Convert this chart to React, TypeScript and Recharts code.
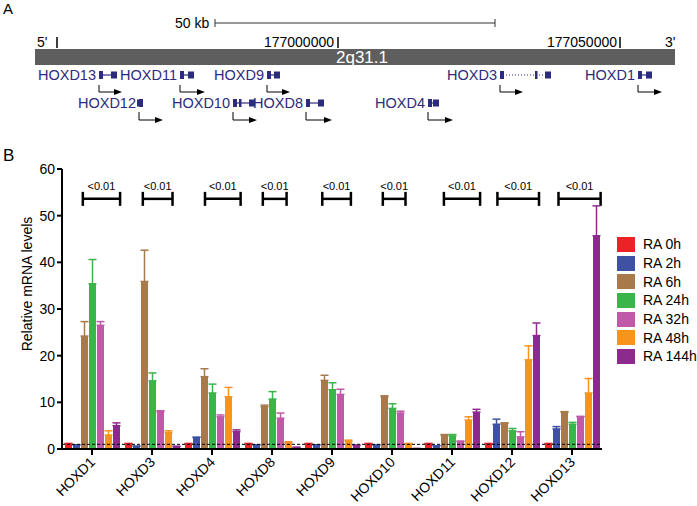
import React from "react";
import { Bar, BarChart, ErrorBar, Legend, ReferenceLine, XAxis, YAxis } from "recharts";

const categories = ["HOXD1", "HOXD3", "HOXD4", "HOXD8", "HOXD9", "HOXD10", "HOXD11", "HOXD12", "HOXD13"];

const ra0 = [1.0, 1.0, 1.0, 1.0, 1.0, 1.0, 1.0, 1.0, 1.0];
const ra0Err = [0.2, 0.2, 0.2, 0.2, 0.2, 0.2, 0.2, 0.2, 0.2];
const ra2 = [0.9, 0.6, 2.5, 0.9, 0.9, 0.85, 0.7, 5.3, 4.3];
const ra2Err = [0, 0, 0, 0, 0, 0, 0, 1.1, 0.5];
const ra6 = [24.2, 35.9, 15.5, 9.1, 14.7, 11.2, 3.0, 5.5, 7.9];
const ra6Err = [3.1, 6.7, 1.7, 0.3, 1.1, 0.2, 0.1, 0.1, 0.1];
const ra24 = [35.4, 14.6, 12.0, 10.7, 12.7, 8.7, 2.8, 3.9, 5.3];
const ra24Err = [5.2, 1.7, 1.9, 1.6, 1.5, 1.0, 0.3, 0.5, 0.4];
const ra32 = [26.5, 8.0, 6.9, 6.6, 11.7, 7.7, 1.6, 2.6, 6.9];
const ra32Err = [0.8, 0.2, 0.4, 1.1, 1.1, 0.4, 0.1, 1.1, 0.1];
const ra48 = [3.0, 3.5, 11.2, 1.35, 1.7, 1.1, 6.2, 19.1, 12.0];
const ra48Err = [0.9, 0.4, 2.0, 0.2, 0.2, 0.1, 0.7, 3.0, 3.1];
const ra144 = [5.0, 0.5, 3.7, 0.3, 0.75, 0.1, 7.9, 24.3, 45.7];
const ra144Err = [0.6, 0.1, 0.4, 0.1, 0.1, 0, 0.6, 2.7, 6.4];

const seriesNames = ["RA 0h", "RA 2h", "RA 6h", "RA 24h", "RA 32h", "RA 48h", "RA 144h"];
const seriesValues = [ra0, ra2, ra6, ra24, ra32, ra48, ra144];
const seriesErrors = [ra0Err, ra2Err, ra6Err, ra24Err, ra32Err, ra48Err, ra144Err];
const colors = ["#ec2227", "#3e51a3", "#a87a4b", "#3bb44a", "#c05aa8", "#f7941e", "#8c2a8e"];

// significance brackets: start/end as a fraction of each category band
const bracketStart = [0.33, 0.33, 0.37, 0.33, 0.32, 0.33, 0.35, 0.23, 0.25];
const bracketEnd = [1.02, 0.88, 1.03, 0.77, 0.85, 0.75, 1.02, 1.0, 1.03];
const bracketLevel = 53.6;
const bracketLabel = "<0.01";
const yTicks = [0, 10, 20, 30, 40, 50, 60];

const chartData = categories.map((name, i) => {
  const row: Record<string, any> = { name, bracket: bracketLevel, bStart: bracketStart[i], bEnd: bracketEnd[i] };
  seriesValues.forEach((vals, s) => {
    row[`v${s}`] = vals[i];
    row[`e${s}`] = [0, seriesErrors[s][i]];
  });
  return row;
});

const font = "'Liberation Sans', Arial, Helvetica, sans-serif";
const navy = "#2c2b7c";

type Gene = { name: string; row: number; x0: number; x1: number; arrowEnd: number };
const genes: Gene[] = [
  { name: "HOXD13", row: 0, x0: 99, x1: 117, arrowEnd: 122 },
  { name: "HOXD11", row: 0, x0: 180, x1: 194, arrowEnd: 205 },
  { name: "HOXD9", row: 0, x0: 267, x1: 280, arrowEnd: 290 },
  { name: "HOXD3", row: 0, x0: 500, x1: 551, arrowEnd: 523 },
  { name: "HOXD1", row: 0, x0: 638, x1: 652, arrowEnd: 662 },
  { name: "HOXD12", row: 1, x0: 139, x1: 143, arrowEnd: 163 },
  { name: "HOXD10", row: 1, x0: 233, x1: 255, arrowEnd: 257 },
  { name: "HOXD8", row: 1, x0: 306, x1: 324, arrowEnd: 332 },
  { name: "HOXD4", row: 1, x0: 428, x1: 439, arrowEnd: 453 },
];

function GeneMap() {
  const rowY = [75, 103];
  const arrowTop = [85, 112];
  const arrowY = [92, 120];
  return (
    <svg width={697} height={150} style={{ position: "absolute", left: 0, top: 0, fontFamily: font }}>
      <text x={3} y={14} fontSize={15}>A</text>
      <text x={175} y={28} fontSize={14}>50 kb</text>
      <line x1={215} y1={23} x2={495} y2={23} stroke="#333" strokeWidth={1} />
      <line x1={215} y1={19} x2={215} y2={27} stroke="#333" strokeWidth={1} />
      <line x1={495} y1={19} x2={495} y2={27} stroke="#333" strokeWidth={1} />
      <text x={37} y={47} fontSize={14}>5'</text>
      <line x1={57} y1={37} x2={57} y2={48} stroke="#000" strokeWidth={1.5} />
      <text x={334} y={47} fontSize={14} textAnchor="end">177000000</text>
      <line x1={338} y1={37} x2={338} y2={48} stroke="#000" strokeWidth={1.5} />
      <text x={617} y={47} fontSize={14} textAnchor="end">177050000</text>
      <line x1={620} y1={37} x2={620} y2={48} stroke="#000" strokeWidth={1.5} />
      <text x={665} y={47} fontSize={14}>3'</text>
      <rect x={35} y={49} width={640} height={16} fill="#5e5e5e" />
      <text x={336} y={63} fontSize={17} fill="#fff">2q31.1</text>
      {genes.map((g) => {
        const y = rowY[g.row];
        return (
          <g key={g.name}>
            <text x={g.x0 - 3} y={y + 5} fontSize={14.5} fill={navy} textAnchor="end">{g.name}</text>
            <line x1={g.x0} y1={y} x2={g.x1} y2={y} stroke={navy} strokeWidth={1.2} strokeDasharray={g.name === "HOXD3" ? "1 2" : undefined} />
            <rect x={g.x0} y={y - 4} width={4} height={8} fill={navy} />
            <rect x={g.x1 - 6} y={y - 3.5} width={6} height={7} fill={navy} />
            {g.x1 - g.x0 > 20 && <rect x={g.x1 - 16} y={y - 4} width={2.5} height={8} fill={navy} />}
            <polyline
              points={`${g.x0},${arrowTop[g.row]} ${g.x0},${arrowY[g.row]} ${g.arrowEnd - 6},${arrowY[g.row]}`}
              fill="none"
              stroke="#000"
              strokeWidth={1}
            />
            <polygon
              points={`${g.arrowEnd},${arrowY[g.row]} ${g.arrowEnd - 8},${arrowY[g.row] - 3} ${g.arrowEnd - 8},${arrowY[g.row] + 3}`}
              fill="#000"
            />
          </g>
        );
      })}
    </svg>
  );
}

const XTick = ({ x, y, payload }: any) => (
  <text
    x={x + 4}
    y={y + 6}
    textAnchor="end"
    fontSize={14}
    fill="#000"
    fontFamily={font}
    transform={`rotate(-45 ${x + 4} ${y + 6})`}
  >
    {payload.value}
  </text>
);

// bar spans the whole category band; draw the bracket instead of a rectangle
const BracketShape = (props: any) => {
  const { x, y, width, height, payload } = props;
  const pxPerUnit = height / payload.bracket;
  const x1 = x + payload.bStart * width;
  const x2 = x + payload.bEnd * width;
  const half = 1.5 * pxPerUnit;
  return (
    <g>
      <line x1={x1} y1={y} x2={x2} y2={y} stroke="#000" strokeWidth={2.5} />
      <line x1={x1} y1={y - half} x2={x1} y2={y + half} stroke="#000" strokeWidth={2.5} />
      <line x1={x2} y1={y - half} x2={x2} y2={y + half} stroke="#000" strokeWidth={2.5} />
      <text x={(x1 + x2) / 2} y={y - 9} textAnchor="middle" fontSize={11} fontFamily={font} fill="#000">
        {bracketLabel}
      </text>
    </g>
  );
};

const LegendContent = () => (
  <div style={{ fontFamily: font, fontSize: 14, color: "#000" }}>
    {seriesNames.map((n, i) => (
      <div key={n} style={{ display: "flex", alignItems: "center", height: 18.7 }}>
        <span style={{ display: "inline-block", width: 18, height: 15, background: colors[i], marginRight: 8 }} />
        <span>{n}</span>
      </div>
    ))}
  </div>
);

const YLabel = ({ viewBox }: any) => {
  const cx = viewBox.x + 32;
  const cy = viewBox.y + viewBox.height / 2 - 25;
  return (
    <text x={cx} y={cy} textAnchor="middle" fontSize={14} fontFamily={font} fill="#000" transform={`rotate(-90 ${cx} ${cy})`}>
      Relative mRNA levels
    </text>
  );
};

export default function App() {
  return (
    <div style={{ position: "absolute", left: 0, top: 0, width: 697, height: 506, background: "#fff", fontFamily: font }}>
      <GeneMap />
      <div style={{ position: "absolute", left: 3, top: 146, fontSize: 17 }}>B</div>
      <div style={{ position: "absolute", left: 0, top: 150 }}>
        <BarChart
          width={697}
          height={356}
          data={chartData}
          margin={{ top: 19, right: 95, bottom: 0, left: 0 }}
          barCategoryGap={3}
          barGap={1}
        >
          <XAxis
            xAxisId="cat"
            dataKey="name"
            tick={<XTick />}
            tickSize={6}
            tickMargin={2}
            height={57}
            interval={0}
            axisLine={{ stroke: "#000", strokeWidth: 2 }}
            tickLine={{ stroke: "#000", strokeWidth: 2 }}
          />
          <XAxis xAxisId="sig" dataKey="name" hide />
          <YAxis
            domain={[0, 60]}
            ticks={yTicks}
            width={62}
            tickSize={5}
            tickMargin={2}
            interval={0}
            tick={{ fontSize: 14, fill: "#000", fontFamily: font }}
            axisLine={{ stroke: "#000", strokeWidth: 2 }}
            tickLine={{ stroke: "#000", strokeWidth: 2 }}
            label={<YLabel />}
          />
          <Bar xAxisId="sig" dataKey="bracket" barSize={60} shape={<BracketShape />} legendType="none" isAnimationActive={false} />
          {seriesNames.map((n, s) => (
            <Bar key={n} xAxisId="cat" dataKey={`v${s}`} name={n} fill={colors[s]} isAnimationActive={false}>
              <ErrorBar dataKey={`e${s}`} direction="y" width={4} stroke={colors[s]} strokeWidth={1.5} />
            </Bar>
          ))}
          <ReferenceLine xAxisId="cat" y={1} stroke="#000" strokeWidth={1} strokeDasharray="3 2" />
          <Legend
            layout="vertical"
            align="center"
            verticalAlign="middle"
            content={<LegendContent />}
            wrapperStyle={{ left: 617, top: 85, width: 80 }}
          />
        </BarChart>
      </div>
    </div>
  );
}
